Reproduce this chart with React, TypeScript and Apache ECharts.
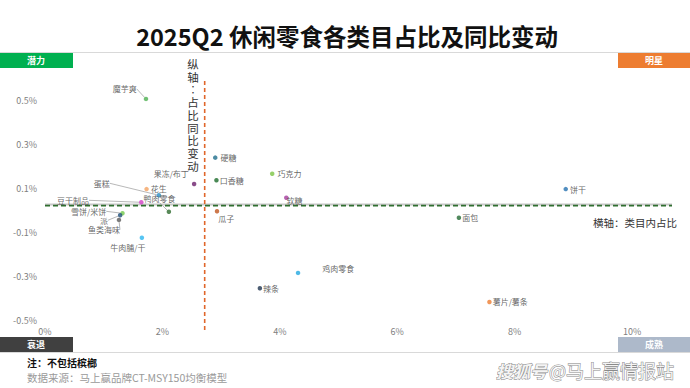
import React, { useEffect, useRef } from "react";
import * as echarts from "echarts";

const categories = ["魔芋爽", "硬糖", "口香糖", "巧克力", "软糖", "瓜子", "果冻/布丁", "蛋糕", "花生", "鸭肉零食", "豆干制品", "雪饼/米饼", "派", "鱼类海味", "牛肉脯/干", "面包", "饼干", "薯片/薯条", "鸡肉零食", "辣条"];
// x: 类目内占比 (%), y: 占比同比变动 (pct)
const shareValues = [1.72, 2.9, 2.92, 3.87, 4.11, 2.93, 2.54, 1.94, 1.73, 2.11, 1.64, 1.32, 1.28, 1.26, 1.65, 7.05, 8.87, 7.57, 4.31, 3.66];
const changeValues = [0.505, 0.238, 0.135, 0.165, 0.056, -0.006, 0.118, 0.067, 0.095, -0.008, 0.035, -0.015, -0.024, -0.045, -0.126, -0.035, 0.095, -0.418, -0.286, -0.356];
const avgShare = 2.72;
const avgChange = 0.02;
const xTickLabels = ["0%", "2%", "4%", "6%", "8%", "10%"];
const yTickLabels = ["-0.5%", "-0.3%", "-0.1%", "0.1%", "0.3%", "0.5%"];

const pointColors: Record<string, string> = {
  "魔芋爽": "#4CAF50", "硬糖": "#1F6E8C", "口香糖": "#1B6B2A", "巧克力": "#7CC444", "软糖": "#A23B9E",
  "瓜子": "#C0561E", "果冻/布丁": "#6B1F6B", "蛋糕": "#2B8CC4", "花生": "#F4A261", "鸭肉零食": "#2E6B2E",
  "豆干制品": "#D23DC6", "雪饼/米饼": "#72C94B", "派": "#1F4E79", "鱼类海味": "#5A5A5A", "牛肉脯/干": "#2DB7F0",
  "面包": "#256B35", "饼干": "#2572B0", "薯片/薯条": "#ED7D31", "鸡肉零食": "#22A8E0", "辣条": "#1F3550",
};

type Place = { pos: string; dx?: number; dy?: number; line?: boolean; dist?: number };
const labelPlace: Record<string, Place> = {
  "魔芋爽": { pos: "left", dx: -4, dy: -10, line: true },
  "硬糖": { pos: "right", dist: 3 },
  "口香糖": { pos: "right", dist: 1 },
  "巧克力": { pos: "right", dist: 3 },
  "软糖": { pos: "right", dx: -3, dy: 3, dist: 1 },
  "瓜子": { pos: "right", dx: -2, dy: 7, dist: 1 },
  "果冻/布丁": { pos: "left", dx: 0, dy: -11 },
  "蛋糕": { pos: "left", dx: -44, dy: -12, line: true },
  "花生": { pos: "right", dist: 2, dy: -1 },
  "鸭肉零食": { pos: "left", dx: 12, dy: -13.5, line: true },
  "豆干制品": { pos: "left", dx: -47, dy: -2, line: true },
  "雪饼/米饼": { pos: "left", dx: -11, dy: -2, line: true },
  "派": { pos: "left", dx: -7, dy: 5, line: true },
  "鱼类海味": { pos: "bottom", dx: -15, dy: 0, line: true },
  "牛肉脯/干": { pos: "bottom", dx: -14, dy: 0 },
  "面包": { pos: "right", dist: 1 },
  "饼干": { pos: "right", dist: 2 },
  "薯片/薯条": { pos: "right", dist: 1 },
  "鸡肉零食": { pos: "right", dx: 19, dy: -4 },
  "辣条": { pos: "right", dist: 1 },
};

const FONT = "'Noto Sans CJK SC', 'Noto Sans', sans-serif";

export default function App() {
  const ref = useRef<HTMLDivElement>(null);
  useEffect(() => {
    if (!ref.current) return;
    const chart = echarts.init(ref.current, undefined, { renderer: "svg" });
    const points = categories.map((name, i) => {
      const p = labelPlace[name];
      return {
        name,
        value: [shareValues[i], changeValues[i]],
        itemStyle: { color: pointColors[name] },
        label: { position: p.pos, distance: p.dist ?? 3 },
        labelLine: { show: !!p.line },
      };
    });
    const xMax = 10.68;
    const yAxisLabel = (v: number) => {
      const k = Math.round(v * 10);
      if (Math.abs(k) % 2 !== 1) return "";
      const txt = (k / 10).toFixed(1) + "%";
      return yTickLabels.includes(txt) ? txt : "";
    };
    const xAxisLabel = (v: number) => {
      const txt = Math.round(v) + "%";
      return xTickLabels.includes(txt) ? txt : "";
    };
    const vertChars = "纵轴︰占比同比变动".split("");
    const vertGraphics = vertChars.map((ch, i) => ({
      type: "text",
      x: 193,
      y: 64 + i * 12.7,
      style: { text: ch, fontSize: 11.5, lineHeight: 12, fill: "#333", align: "center", verticalAlign: "middle", fontFamily: FONT },
    }));
    chart.setOption({
      animation: false,
      textStyle: { fontFamily: FONT },
      grid: { left: 45, right: 18, top: 78, bottom: 68, containLabel: false },
      xAxis: {
        type: "value",
        min: 0,
        max: xMax,
        interval: 2,
        axisLine: { show: false },
        axisTick: { show: false },
        splitLine: { show: false },
        axisLabel: { formatter: xAxisLabel, showMaxLabel: false, color: "#7F7F7F", fontSize: 9, margin: 7, fontFamily: FONT },
      },
      yAxis: {
        type: "value",
        min: -0.5,
        max: 0.6,
        interval: 0.1,
        axisLine: { show: false },
        axisTick: { show: false },
        splitLine: { show: false },
        axisLabel: { formatter: yAxisLabel, showMaxLabel: false, color: "#7F7F7F", fontSize: 9, margin: 8, fontFamily: FONT },
      },
      series: [
        {
          type: "line",
          data: [[0, avgChange + 0.005], [xMax, avgChange + 0.005]],
          symbol: "none",
          silent: true,
          lineStyle: { color: "#C8C8C8", width: 2 },
          z: 1,
        },
        {
          type: "line",
          data: [[0, avgChange], [xMax, avgChange]],
          symbol: "none",
          silent: true,
          lineStyle: { color: "#2F6E2F", width: 1.6, type: [5, 3] },
          z: 2,
        },
        {
          type: "line",
          data: [[avgShare, -0.545], [avgShare, 0.59]],
          symbol: "none",
          silent: true,
          clip: false,
          lineStyle: { color: "#E0662A", width: 1.6, type: [4, 3] },
          z: 2,
        },
        {
          type: "scatter",
          data: points,
          symbolSize: 4.5,
          z: 5,
          label: {
            show: true,
            formatter: "{b}",
            fontSize: 8,
            lineHeight: 9,
            color: "#404040",
            fontFamily: FONT,
          },
          labelLine: { lineStyle: { color: "#A6A6A6", width: 0.8 } },
          labelLayout: (params: any) => {
            const p = labelPlace[categories[params.dataIndex]];
            return { dx: p?.dx ?? 0, dy: p?.dy ?? 0 };
          },
        },
      ],
      graphic: [
        { type: "text", x: 347, y: 36, style: { text: "2025Q2 休闲零食各类目占比及同比变动", fontSize: 23.5, fontWeight: "bold", fill: "#111", align: "center", verticalAlign: "middle", fontFamily: FONT } },
        { type: "rect", shape: { x: 0, y: 52, width: 690, height: 1 }, style: { fill: "#D9D9D9" } },
        { type: "rect", shape: { x: 0, y: 352, width: 690, height: 1 }, style: { fill: "#D9D9D9" } },
        { type: "rect", shape: { x: 0, y: 53, width: 73, height: 15 }, style: { fill: "#00B050" } },
        { type: "text", x: 36, y: 60.5, style: { text: "潜力", fontSize: 9, fontWeight: "bold", fill: "#fff", align: "center", verticalAlign: "middle", fontFamily: FONT } },
        { type: "rect", shape: { x: 618, y: 53, width: 72, height: 15 }, style: { fill: "#ED7D31" } },
        { type: "text", x: 654, y: 60.5, style: { text: "明星", fontSize: 9, fontWeight: "bold", fill: "#fff", align: "center", verticalAlign: "middle", fontFamily: FONT } },
        { type: "rect", shape: { x: 0, y: 337, width: 73, height: 15 }, style: { fill: "#404040" } },
        { type: "text", x: 36, y: 344.5, style: { text: "衰退", fontSize: 9, fontWeight: "bold", fill: "#fff", align: "center", verticalAlign: "middle", fontFamily: FONT } },
        { type: "rect", shape: { x: 618, y: 337, width: 72, height: 15 }, style: { fill: "#ADB9CA" } },
        { type: "text", x: 654, y: 344.5, style: { text: "成熟", fontSize: 9, fontWeight: "bold", fill: "#fff", align: "center", verticalAlign: "middle", fontFamily: FONT } },
        ...vertGraphics,
        { type: "text", x: 593, y: 222, style: { text: "横轴：类目内占比", fontSize: 10.5, fill: "#333", align: "left", verticalAlign: "middle", fontFamily: FONT } },
        { type: "text", x: 27, y: 362, style: { text: "注：不包括槟榔", fontSize: 10, fontWeight: "bold", fill: "#111", align: "left", verticalAlign: "middle", fontFamily: FONT } },
        { type: "text", x: 27, y: 377, style: { text: "数据来源：马上赢品牌CT-MSY150均衡模型", fontSize: 10.5, fill: "#9A9A9A", align: "left", verticalAlign: "middle", fontFamily: FONT } },
        { type: "text", x: 496, y: 370, style: { text: "搜狐号", fontSize: 17, fontStyle: "italic", fontWeight: "bold", fill: "#F4F4F4", stroke: "#8A8A8A", lineWidth: 1, align: "left", verticalAlign: "middle", fontFamily: FONT } },
        { type: "text", x: 549, y: 370, style: { text: "@马上赢情报站", fontSize: 18, fill: "#F4F4F4", stroke: "#8A8A8A", lineWidth: 1, align: "left", verticalAlign: "middle", fontFamily: FONT } },
      ],
    });
    return () => chart.dispose();
  }, []);
  return <div ref={ref} style={{ position: "fixed", left: 0, top: 0, width: 690, height: 388, background: "#fff" }} />;
}
